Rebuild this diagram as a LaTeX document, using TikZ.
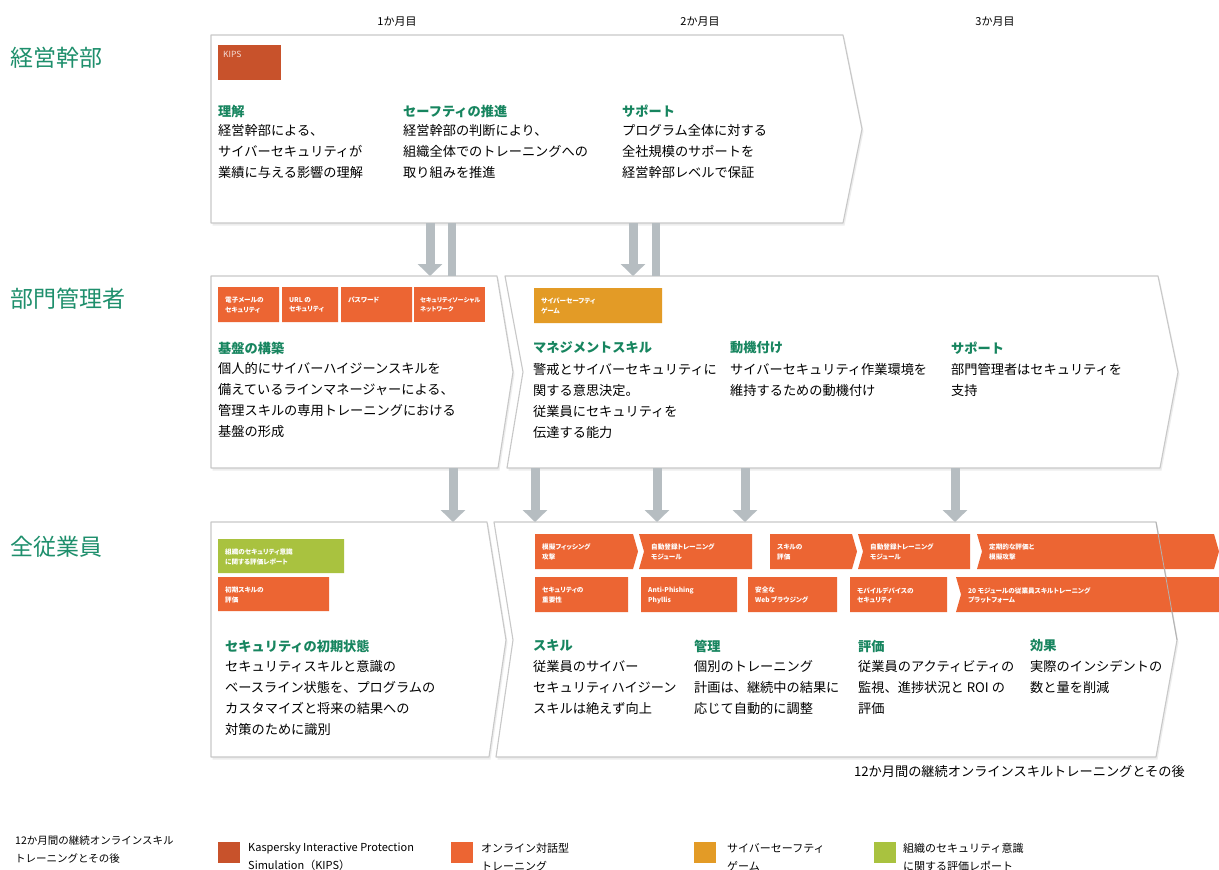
\documentclass[tikz,border=0pt]{standalone}
\usepackage{fontspec}
\setmainfont{Noto Sans CJK JP}
\newfontfamily\pfont{Noto Sans CJK JP}[RawFeature=+palt]
\usetikzlibrary{arrows.meta}
\definecolor{hgreen}{RGB}{23,133,95}
\definecolor{lgreen}{RGB}{30,143,108}
\definecolor{kips}{RGB}{200,82,43}
\definecolor{ora}{RGB}{236,101,51}
\definecolor{amb}{RGB}{227,155,38}
\definecolor{lime}{RGB}{169,194,63}
\definecolor{arr}{RGB}{182,189,193}
\definecolor{pbord}{RGB}{200,200,200}
\tikzset{
 panel/.style={draw=pbord, line width=1.1pt, fill=white, line join=round},
 pshadow/.style={fill=black!7, draw=none},
 rowlabel/.style={anchor=west, inner sep=0, text=lgreen, font=\fontsize{23}{26}\selectfont},
 headtxt/.style={anchor=west, inner sep=0, text=hgreen, font=\bfseries\fontsize{13.2}{16}\selectfont},
 bodytxt/.style={anchor=north west, inner sep=0, align=left, font=\fontsize{13.2}{21}\selectfont},
 tagtext/.style={anchor=north west, inner sep=0, align=left, text=white, font=\pfont\bfseries\fontsize{6.6}{9.5}\selectfont},
 smalltag/.style={font=\pfont\bfseries\fontsize{6.1}{9.5}\selectfont},
 monthtxt/.style={inner sep=0, font=\fontsize{11}{13}\selectfont},
 flowarrow/.style={draw=arr, line width=9pt, -{Triangle[width=24pt,length=12pt]}},
 gbar/.style={draw=arr, line width=8pt},
 legtext/.style={anchor=north west, inner sep=0, align=left, font=\fontsize{10.5}{18}\selectfont},
 swatch/.style={minimum width=22pt, minimum height=21pt, inner sep=0, anchor=north west, draw=none},
}
\newcommand\panelshape[1]{\fill[pshadow,shift={(1.5,2.5)}] #1; \draw[panel] #1;}
\newcommand\tagbox[9]{%
 \fill[#8] (#2,#3) -- (#4,#3) -- ({#4+#7},{(#3+#5)/2}) -- (#4,#5) -- (#2,#5) -- ({#2+#6},{(#3+#5)/2}) -- cycle;
 \node[tagtext] (#1) at ({#2+#6+7},{#3+10}) {#9};%
}
\begin{document}
\begin{tikzpicture}[x=1pt,y=-1pt]
\useasboundingbox (0,0) rectangle (1219,870);
\fill[white] (0,0) rectangle (1219,870);

% month labels
\node[monthtxt] (mo1) at (397,22) {1か月目};
\node[monthtxt] (mo2) at (700,22) {2か月目};
\node[monthtxt] (mo3) at (995,22) {3か月目};

% row labels
\node[rowlabel] (lab1) at (10,58) {経営幹部};
\node[rowlabel] (lab2) at (10,299) {部門管理者};
\node[rowlabel] (lab3) at (10,547) {全従業員};

% panels
\panelshape{(211,35) -- (843,35) -- (862,129) -- (843,223) -- (211,223) -- cycle}
\panelshape{(211,276) -- (497,276) -- (513,372) -- (498,468) -- (211,468) -- cycle}
\panelshape{(505,276) -- (1158,276) -- (1178,372) -- (1160,468) -- (507,468) -- (523,372) -- cycle}
\panelshape{(211,522) -- (487,522) -- (506,640) -- (489,757) -- (211,757) -- cycle}
\panelshape{(494,522) -- (1156,522) -- (1177,640) -- (1156,757) -- (496,757) -- (513,640) -- cycle}

% arrows top -> middle
\coordinate (ta1) at (430,223); \coordinate (ma1) at (430,276);
\coordinate (tb1) at (452,223); \coordinate (mb1) at (452,276);
\coordinate (ta2) at (633,223); \coordinate (ma2) at (633,276);
\coordinate (tb2) at (656,223); \coordinate (mb2) at (656,276);
\draw[flowarrow] (ta1) -- (ma1);
\draw[gbar] (tb1) -- (mb1);
\draw[flowarrow] (ta2) -- (ma2);
\draw[gbar] (tb2) -- (mb2);

% arrows middle -> bottom
\foreach \i/\x in {1/453,2/535,3/657,4/745,5/955}{
  \coordinate (ms\i) at (\x,468); \coordinate (be\i) at (\x,522);
  \draw[flowarrow] (ms\i) -- (be\i);
}

% KIPS tag
\fill[kips] (218,45) rectangle (281,80);
\node[anchor=north west, inner sep=0, text=white!80!kips, font=\fontsize{8.5}{10}\selectfont] (kipstag) at (223,51) {KIPS};

% middle tags
\tagbox{mt1}{218}{287}{279}{322}{0}{0}{ora}{電子メールの\\セキュリティ}
\tagbox{mt2}{282}{287}{338}{322}{0}{0}{ora}{URL の\\セキュリティ}
\tagbox{mt3}{341}{287}{412}{322}{0}{0}{ora}{パスワード}
\fill[ora] (414,287) rectangle (485,322);
\node[tagtext, smalltag] (mt4) at (420,297) {セキュリティソーシャル\\ネットワーク};
\tagbox{mt5}{534}{288}{662}{323}{0}{0}{amb}{サイバーセーフティ\\ゲーム}

% bottom left tags
\tagbox{bl1}{218}{539}{344}{573}{0}{0}{lime}{組織のセキュリティ意識\\に関する評価レポート}
\tagbox{bl2}{218}{577}{329}{611}{0}{0}{ora}{初期スキルの\\評価}

% bottom right tags row 1
\tagbox{r1}{535}{534}{633}{569}{0}{5}{ora}{模擬フィッシング\\攻撃}
\tagbox{r2}{639}{534}{752}{569}{5}{0}{ora}{自動登録トレーニング\\モジュール}
\tagbox{r3}{770}{534}{852}{569}{0}{5}{ora}{スキルの\\評価}
\tagbox{r4}{858}{534}{970}{569}{5}{0}{ora}{自動登録トレーニング\\モジュール}
\tagbox{r5}{977}{534}{1214}{569}{5}{5}{ora}{定期的な評価と\\模擬攻撃}
% row 2
\tagbox{s1}{535}{577}{628}{612}{0}{0}{ora}{セキュリティの\\重要性}
\tagbox{s2}{641}{577}{737}{612}{0}{0}{ora}{Anti-Phishing\\Phyllis}
\tagbox{s3}{748}{577}{837}{612}{0}{0}{ora}{安全な\\Web ブラウジング}
\tagbox{s4}{850}{577}{947}{612}{0}{0}{ora}{モバイルデバイスの\\セキュリティ}
\tagbox{s5}{956}{577}{1219}{612}{5}{0}{ora}{20 モジュールの従業員スキルトレーニング\\プラットフォーム}
\draw[draw=black!30, line width=0.8pt] (1156,522) -- (1177,640);

% top panel texts
\node[headtxt] (h11) at (218,111) {理解};
\node[bodytxt] (b11) at (218,124) {経営幹部による、\\サイバーセキュリティが\\業績に与える影響の理解};
\node[headtxt] (h12) at (403,111) {セーフティの推進};
\node[bodytxt] (b12) at (403,124) {経営幹部の判断により、\\組織全体でのトレーニングへの\\取り組みを推進};
\node[headtxt] (h13) at (622,111) {サポート};
\node[bodytxt] (b13) at (622,124) {プログラム全体に対する\\全社規模のサポートを\\経営幹部レベルで保証};

% middle panel texts
\node[headtxt] (h21) at (218,348) {基盤の構築};
\node[bodytxt] (b21) at (218,362) {個人的にサイバーハイジーンスキルを\\備えているラインマネージャーによる、\\管理スキルの専用トレーニングにおける\\基盤の形成};
\node[headtxt] (h22) at (533,348) {マネジメントスキル};
\node[bodytxt] (b22) at (533,363) {警戒とサイバーセキュリティに\\関する意思決定。\\従業員にセキュリティを\\伝達する能力};
\node[headtxt] (h23) at (730,348) {動機付け};
\node[bodytxt] (b23) at (730,363) {サイバーセキュリティ作業環境を\\維持するための動機付け};
\node[headtxt] (h24) at (951,348) {サポート};
\node[bodytxt] (b24) at (951,363) {部門管理者はセキュリティを\\支持};

% bottom panel texts
\node[headtxt] (h31) at (225,646) {セキュリティの初期状態};
\node[bodytxt] (b31) at (225,660) {セキュリティスキルと意識の\\ベースライン状態を、プログラムの\\カスタマイズと将来の結果への\\対策のために識別};
\node[headtxt] (h32) at (533,646) {スキル};
\node[bodytxt] (b32) at (533,660) {従業員のサイバー\\セキュリティハイジーン\\スキルは絶えず向上};
\node[headtxt] (h33) at (694,646) {管理};
\node[bodytxt] (b33) at (694,660) {個別のトレーニング\\計画は、継続中の結果に\\応じて自動的に調整};
\node[headtxt] (h34) at (858,646) {評価};
\node[bodytxt] (b34) at (858,660) {従業員のアクティビティの\\監視、進捗状況と ROI の\\評価};
\node[headtxt] (h35) at (1030,646) {効果};
\node[bodytxt] (b35) at (1030,660) {実際のインシデントの\\数と量を削減};

% caption
\node[anchor=east, inner sep=0, font=\fontsize{13.2}{16}\selectfont] (cap) at (1185,771) {12か月間の継続オンラインスキルトレーニングとその後};

% legend
\node[legtext] (leg0) at (15,835) {12か月間の継続オンラインスキル\\トレーニングとその後};
\node[swatch, fill=kips] (sw1) at (218,842) {};
\node[legtext, font=\fontsize{11}{18}\selectfont] (lt1) at (248,843) {Kaspersky Interactive Protection\\Simulation（KIPS）};
\node[swatch, fill=ora] (sw2) at (451,842) {};
\node[legtext, font=\fontsize{11}{18}\selectfont] (lt2) at (481,843) {オンライン対話型\\トレーニング};
\node[swatch, fill=amb] (sw3) at (694,842) {};
\node[legtext, font=\fontsize{11}{18}\selectfont] (lt3) at (727,843) {サイバーセーフティ\\ゲーム};
\node[swatch, fill=lime] (sw4) at (874,842) {};
\node[legtext, font=\fontsize{11}{18}\selectfont] (lt4) at (903,843) {組織のセキュリティ意識\\に関する評価レポート};
\end{tikzpicture}
\end{document}
